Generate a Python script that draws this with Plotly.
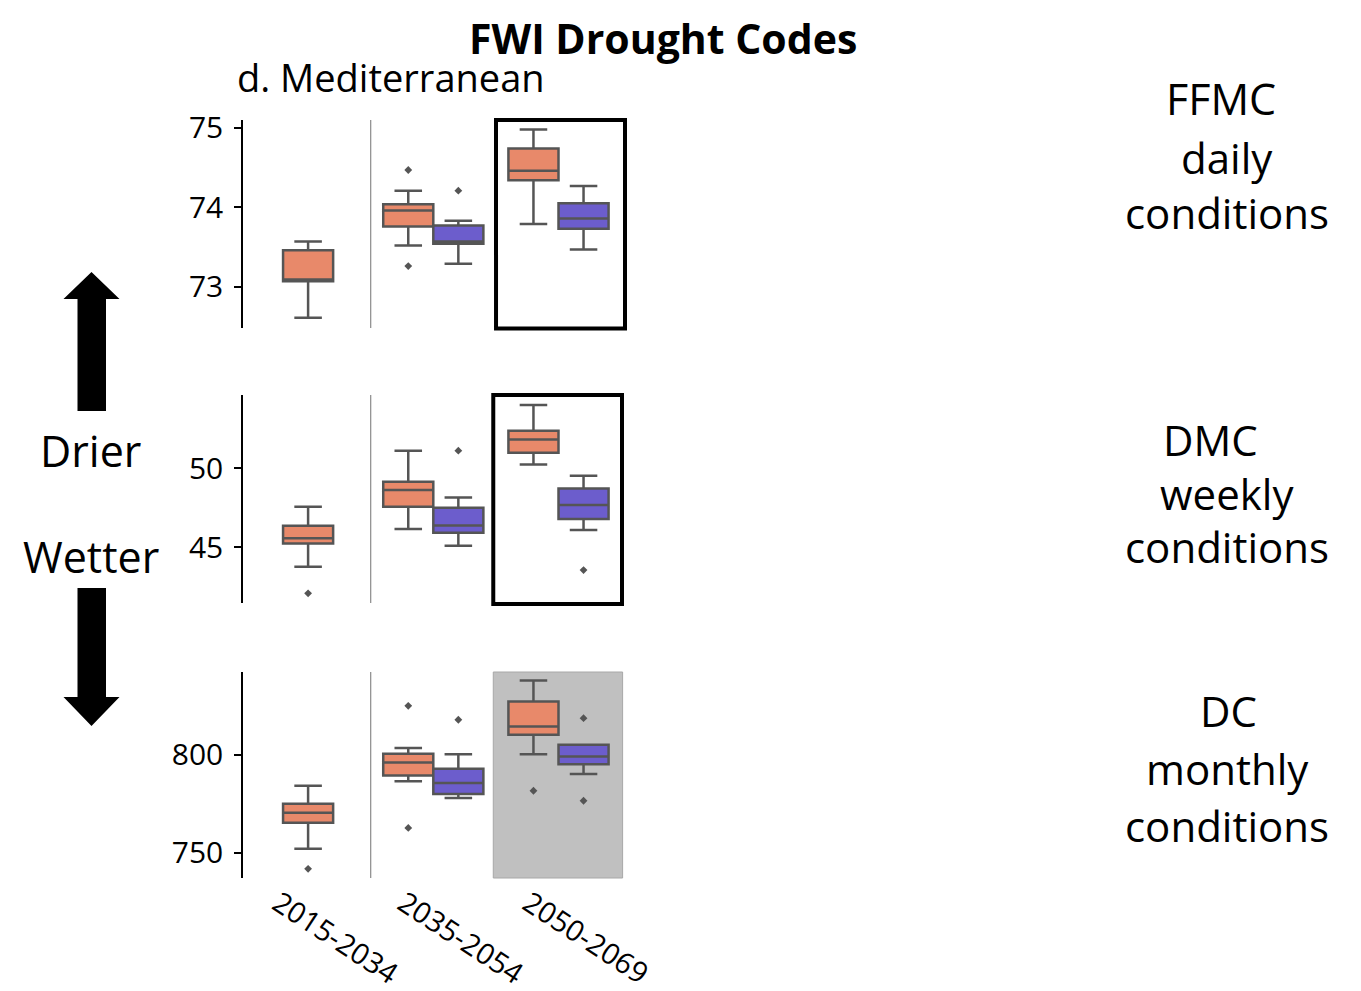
import plotly.graph_objects as go

# target canvas is 1361x991; the page body adds an 8px margin, so the
# figure is offset by it and every pixel reference is shifted accordingly.
CANVAS_W, CANVAS_H = 1361, 991
OFF = 8
W, H = CANVAS_W - OFF, CANVAS_H - OFF

# ---------------- data ----------------
periods = ["2015-2034", "2035-2054", "2050-2069"]

# FFMC (daily conditions)
ffmc_a_lower = [72.61, 73.52, 73.79]
ffmc_a_q1 = [73.07, 73.76, 74.34]
ffmc_a_med = [73.09, 73.96, 74.46]
ffmc_a_q3 = [73.46, 74.04, 74.74]
ffmc_a_upper = [73.57, 74.21, 74.98]
ffmc_a_out = [[], [74.47, 73.26], []]
ffmc_b_lower = [73.29, 73.47]
ffmc_b_q1 = [73.54, 73.73]
ffmc_b_med = [73.57, 73.86]
ffmc_b_q3 = [73.77, 74.05]
ffmc_b_upper = [73.83, 74.27]
ffmc_b_out = [[74.21], []]

# DMC (weekly conditions)
dmc_a_lower = [43.75, 46.14, 50.23]
dmc_a_q1 = [45.23, 47.55, 50.97]
dmc_a_med = [45.55, 48.61, 51.81]
dmc_a_q3 = [46.35, 49.13, 52.36]
dmc_a_upper = [47.55, 51.10, 53.99]
dmc_a_out = [[42.07], [], []]
dmc_b_lower = [45.08, 46.08]
dmc_b_q1 = [45.91, 46.77]
dmc_b_med = [46.37, 47.66]
dmc_b_q3 = [47.49, 48.71]
dmc_b_upper = [48.14, 49.51]
dmc_b_out = [[51.10], [43.54]]

# DC (monthly conditions)
dc_a_lower = [752.0, 786.4, 800.3]
dc_a_q1 = [765.2, 789.4, 810.2]
dc_a_med = [770.3, 796.1, 814.5]
dc_a_q3 = [775.0, 800.5, 827.2]
dc_a_upper = [784.2, 803.4, 837.9]
dc_a_out = [[741.7], [825.0, 762.6], [781.6]]
dc_b_lower = [777.9, 790.2]
dc_b_q1 = [779.9, 795.2]
dc_b_med = [785.6, 799.1]
dc_b_q3 = [792.9, 805.1]
dc_b_upper = [800.3, 805.1]
dc_b_out = [[817.9], [818.7, 776.5]]

ffmc_ticks = [73, 74, 75]
dmc_ticks = [45, 50]
dc_ticks = [750, 800]

# ---------------- styling ----------------
ORANGE = "#E8896A"
PURPLE = "#6C5DCC"
EDGE = "#555555"
FONT = "Open Sans"

# category positions: first period single box, later periods dodged
cat_idx = list(range(len(periods)))
dodge = 0.2
pos_a = [0] + [i - dodge for i in cat_idx[1:]]
pos_b = [i + dodge for i in cat_idx[1:]]

fig = go.Figure()

panels = [
    ("x", "y", ffmc_a_lower, ffmc_a_q1, ffmc_a_med, ffmc_a_q3, ffmc_a_upper, ffmc_a_out,
     ffmc_b_lower, ffmc_b_q1, ffmc_b_med, ffmc_b_q3, ffmc_b_upper, ffmc_b_out),
    ("x2", "y2", dmc_a_lower, dmc_a_q1, dmc_a_med, dmc_a_q3, dmc_a_upper, dmc_a_out,
     dmc_b_lower, dmc_b_q1, dmc_b_med, dmc_b_q3, dmc_b_upper, dmc_b_out),
    ("x3", "y3", dc_a_lower, dc_a_q1, dc_a_med, dc_a_q3, dc_a_upper, dc_a_out,
     dc_b_lower, dc_b_q1, dc_b_med, dc_b_q3, dc_b_upper, dc_b_out),
]

for (xa, ya, al, a1, am, a3, au, aout, bl, b1, bm, b3, bu, bout) in panels:
    fig.add_trace(go.Box(x=pos_a, lowerfence=al, q1=a1, median=am, q3=a3, upperfence=au,
                         width=0.4, whiskerwidth=0.55, fillcolor=ORANGE,
                         line=dict(color=EDGE, width=2.5), xaxis=xa, yaxis=ya,
                         boxpoints=False, showlegend=False))
    fig.add_trace(go.Box(x=pos_b, lowerfence=bl, q1=b1, median=bm, q3=b3, upperfence=bu,
                         width=0.4, whiskerwidth=0.55, fillcolor=PURPLE,
                         line=dict(color=EDGE, width=2.5), xaxis=xa, yaxis=ya,
                         boxpoints=False, showlegend=False))
    ox, oy = [], []
    for p, vals in zip(pos_a, aout):
        for v in vals:
            ox.append(p); oy.append(v)
    for p, vals in zip(pos_b, bout):
        for v in vals:
            ox.append(p); oy.append(v)
    fig.add_trace(go.Scatter(x=ox, y=oy, mode="markers", xaxis=xa, yaxis=ya,
                             marker=dict(symbol="diamond", size=6, color=EDGE),
                             showlegend=False))

def py(y):
    return 1 - (y - OFF) / H

def px(x):
    return (x - OFF) / W

x_range = [-0.52, 2.56]
x_dom = [px(243), px(243 + (x_range[1] - x_range[0]) * 125.2)]

y_specs = [
    ("yaxis", "xaxis", "x", [72.48, 75.10], ffmc_ticks, (120, 328)),
    ("yaxis2", "xaxis2", "x2", [41.46, 54.62], dmc_ticks, (395, 603)),
    ("yaxis3", "xaxis3", "x3", [737.0, 842.3], dc_ticks, (672, 878)),
]

layout_axes = {}
for i, (yname, xname, xanchor, yr, yt, (top, bot)) in enumerate(y_specs):
    layout_axes[yname] = dict(
        domain=[py(bot), py(top)], range=yr, tickvals=yt, anchor=xanchor,
        showline=True, linecolor="black", linewidth=1.5, ticks="outside",
        ticklen=7, tickwidth=1.5, tickcolor="black", showgrid=False, zeroline=False,
        automargin=False,
        tickfont=dict(family=FONT, size=30, color="black"), ticklabelstandoff=5)
    xd = dict(domain=x_dom, range=x_range, anchor="y" if i == 0 else f"y{i+1}",
              showline=False, showgrid=False, zeroline=False, ticks="", automargin=False)
    if i == 2:
        xd.update(tickvals=cat_idx, ticktext=periods, tickangle=33,
                  tickfont=dict(family=FONT, size=29, color="black"),
                  ticklabelshift=-30, ticklabelstandoff=2)
    else:
        xd.update(showticklabels=False)
    layout_axes[xname] = xd

fig.update_layout(**layout_axes)

shapes = []
# separators between the first and later periods
for yd in ["y domain", "y2 domain", "y3 domain"]:
    xr = yd.split()[0].replace("y", "x")
    shapes.append(dict(type="line", xref=xr, yref=yd, x0=0.5, x1=0.5, y0=0, y1=1,
                       line=dict(color="#8a8a8a", width=1.2)))
# highlight frames for last period
shapes.append(dict(type="rect", xref="x", yref="y domain", x0=1.501, x1=2.531,
                   y0=-0.003, y1=1.0, line=dict(color="black", width=4)))
shapes.append(dict(type="rect", xref="x2", yref="y2 domain", x0=1.479, x1=2.507,
                   y0=-0.005, y1=1.0, line=dict(color="black", width=4)))
shapes.append(dict(type="rect", xref="x3", yref="y3 domain", x0=1.479, x1=2.512,
                   y0=0, y1=1.0, layer="below", fillcolor="#c0c0c0",
                   line=dict(color="#a8a8a8", width=1)))

# arrows (paper pixels)
def path(points):
    return "M " + " L ".join(f"{px(x):.5f},{py(y):.5f}" for x, y in points) + " Z"

up = [(91.5, 272), (119.5, 299), (106, 299), (106, 411), (77.5, 411), (77.5, 299), (63.5, 299)]
down = [(77.5, 588), (106, 588), (106, 697), (119.5, 697), (91.5, 726), (63.5, 697), (77.5, 697)]
for pts in (up, down):
    shapes.append(dict(type="path", xref="paper", yref="paper", path=path(pts),
                       fillcolor="black", line=dict(color="black", width=0)))

fig.update_layout(shapes=shapes)

def ann(text, x, y, size, anchor="center", bold=False, yanchor="middle"):
    t = f"<b>{text}</b>" if bold else text
    return dict(text=t, x=px(x), y=py(y), xref="paper", yref="paper", showarrow=False,
                xanchor=anchor, yanchor=yanchor,
                font=dict(family=FONT, size=size, color="black"))

annotations = [
    ann("FWI Drought Codes", 663, 8, 41, bold=True, yanchor="top"),
    ann("d. Mediterranean", 235, 77, 38, anchor="left"),
    ann("FFMC", 1221, 98, 43), ann("daily", 1227, 157, 42), ann("conditions", 1227, 213, 42),
    ann("DMC", 1210, 440, 42), ann("weekly", 1227, 493, 42), ann("conditions", 1227, 546, 42),
    ann("DC", 1228, 710, 42), ann("monthly", 1227, 768, 42), ann("conditions", 1227, 825, 42),
    ann("Drier", 90, 451, 43), ann("Wetter", 91, 556, 43),
]

fig.update_layout(
    template="none",
    annotations=annotations,
    width=W, height=H, margin=dict(l=0, r=0, t=0, b=0, autoexpand=False),
    paper_bgcolor="white", plot_bgcolor="white", boxmode="overlay",
    showlegend=False,
)

fig.write_html("out.html")
